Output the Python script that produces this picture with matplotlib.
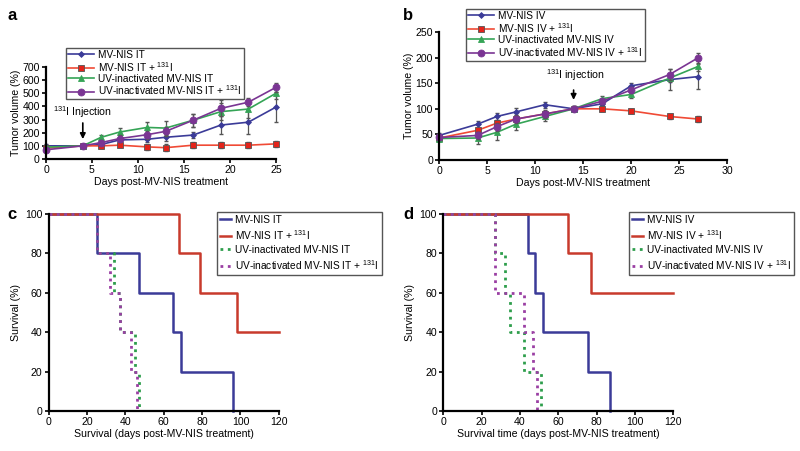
import matplotlib
matplotlib.use("Agg")
import matplotlib.pyplot as plt

plt.rcParams['font.family'] = ['Liberation Sans', 'DejaVu Sans']
plt.rcParams['mathtext.fontset'] = 'custom'
plt.rcParams['mathtext.rm'] = 'Liberation Sans'
plt.rcParams['mathtext.default'] = 'regular'

# panel a: tumor volume, intratumoral
days_a = [0, 4, 6, 8, 11, 13, 16, 19, 22, 25]
a_mv = [100, 100, 110, 145, 150, 165, 182, 258, 280, 395]
a_mv_err = [15, 10, 15, 20, 20, 25, 25, 70, 90, 115]
a_mv_i = [82, 100, 100, 105, 92, 86, 105, 105, 105, 115]
a_mv_i_err = [15, 10, 15, 15, 20, 25, 25, 25, 25, 25]
a_uv = [90, 100, 165, 205, 240, 235, 295, 360, 380, 500]
a_uv_err = [15, 10, 20, 30, 45, 55, 50, 65, 70, 40]
a_uv_i = [70, 100, 125, 155, 185, 210, 295, 385, 432, 545]
a_uv_i_err = [15, 10, 20, 25, 30, 35, 50, 60, 30, 35]

# panel b: tumor volume, intravenous
days_b = [0, 4, 6, 8, 11, 14, 17, 20, 24, 27]
b_mv = [48, 70, 85, 94, 108, 100, 110, 145, 157, 163]
b_mv_err = [4, 7, 7, 7, 6, 5, 5, 5, 20, 25]
b_mv_i = [43, 58, 72, 80, 90, 100, 100, 96, 85, 80]
b_mv_i_err = [3, 5, 6, 6, 5, 5, 5, 4, 5, 6]
b_uv = [42, 43, 54, 70, 85, 100, 120, 128, 160, 183]
b_uv_err = [3, 12, 14, 12, 8, 5, 5, 6, 8, 10]
b_uv_i = [44, 48, 65, 80, 90, 100, 115, 137, 167, 200]
b_uv_i_err = [3, 6, 8, 7, 8, 5, 5, 6, 10, 10]

# panel c: survival, IT
c_mv_t = [0, 25, 47, 65, 69, 96]
c_mv_s = [100, 80, 60, 40, 20, 0]
c_mv_i_t = [0, 68, 79, 98, 120]
c_mv_i_s = [100, 80, 60, 40, 40]
c_uv_t = [0, 25, 34, 37, 45, 47]
c_uv_s = [100, 80, 60, 40, 20, 0]
c_uv_i_t = [0, 25, 32, 37, 43, 46]
c_uv_i_s = [100, 80, 60, 40, 20, 0]

# panel d: survival, IV
d_mv_t = [0, 44.5, 47.7, 52.3, 75.8, 87]
d_mv_s = [100, 80, 60, 40, 20, 0]
d_mv_i_t = [0, 65, 77, 120]
d_mv_i_s = [100, 80, 60, 60]
d_uv_t = [0, 26.8, 32, 35, 42, 51]
d_uv_s = [100, 80, 60, 40, 20, 0]
d_uv_i_t = [0, 26.8, 42.3, 47, 49]
d_uv_i_s = [100, 60, 40, 20, 0]

BLUE = '#3b3b98'
RED = '#f04a35'
RED_M = '#e3231a'
GREEN = '#35a456'
PURPLE = '#7a3593'
S_RED = '#c83a2c'
S_GREEN = '#2e9e4c'
S_PURPLE = '#9a3fa3'
FS = 7.6
LFS = 7.3

fig = plt.figure(figsize=(8, 4.51), dpi=100)


def style(ax):
    for s in ['top', 'right']:
        ax.spines[s].set_visible(False)
    for s in ['left', 'bottom']:
        ax.spines[s].set_linewidth(1.6)
    ax.tick_params(direction='out', length=3, width=1.2, labelsize=FS, pad=1.5)


def tumor(ax, days, series, labels):
    specs = [(BLUE, 'D', 3, BLUE), (RED, 's', 5, RED_M),
             (GREEN, '^', 5, GREEN), (PURPLE, 'o', 5, PURPLE)]
    for (y, e), lab, (c, m, ms, mc) in zip(series, labels, specs):
        ax.errorbar(days, y, yerr=e, fmt='none', ecolor='#555555',
                    elinewidth=0.9, capsize=1.5, clip_on=False)
        ax.plot(days, y, color=c, lw=1.2, marker=m, ms=ms, mfc=mc,
                mec='#555555' if m == 's' else mc, mew=0.6, label=lab,
                clip_on=False)


def legend(ax, x, y, spacing, hl, pad):
    ax.legend(loc='upper left', bbox_to_anchor=(x, y), bbox_transform=fig.transFigure,
              borderaxespad=0, fontsize=LFS, fancybox=False, edgecolor='#555555',
              framealpha=1, labelspacing=spacing, borderpad=pad, handlelength=hl,
              handletextpad=0.4)


ax = fig.add_axes([0.0575, 0.6475, 0.2875, 0.204])
tumor(ax, days_a, [(a_mv, a_mv_err), (a_mv_i, a_mv_i_err), (a_uv, a_uv_err), (a_uv_i, a_uv_i_err)],
      ['MV-NIS IT', 'MV-NIS IT + $^{131}$I', 'UV-inactivated MV-NIS IT',
       'UV-inactivated MV-NIS IT + $^{131}$I'])
style(ax)
ax.set_xlim(0, 25)
ax.set_ylim(0, 700)
ax.set_xticks(range(0, 26, 5))
ax.set_yticks(range(0, 701, 100))
ax.set_xlabel('Days post-MV-NIS treatment', fontsize=FS, labelpad=1)
ax.set_ylabel('Tumor volume (%)', fontsize=FS, labelpad=1)
ax.annotate('', xy=(4, 130), xytext=(4, 295),
            arrowprops=dict(arrowstyle='-|>', color='black', lw=1.2, mutation_scale=8))
ax.text(4, 355, '$^{131}$I Injection', ha='center', va='center', fontsize=FS)
legend(ax, 0.0825, 0.894, 0.0, 2.6, 0.2)
fig.text(0.009, 0.965, 'a', fontsize=12, fontweight='bold', va='center')

ax = fig.add_axes([0.549, 0.6452, 0.36, 0.2838])
tumor(ax, days_b, [(b_mv, b_mv_err), (b_mv_i, b_mv_i_err), (b_uv, b_uv_err), (b_uv_i, b_uv_i_err)],
      ['MV-NIS IV', 'MV-NIS IV + $^{131}$I', 'UV-inactivated MV-NIS IV',
       'UV-inactivated MV-NIS IV + $^{131}$I'])
style(ax)
ax.set_xlim(0, 30)
ax.set_ylim(0, 250)
ax.set_xticks(range(0, 31, 5))
ax.set_yticks(range(0, 251, 50))
ax.set_xlabel('Days post-MV-NIS treatment', fontsize=FS, labelpad=1)
ax.set_ylabel('Tumor volume (%)', fontsize=FS, labelpad=1)
ax.annotate('', xy=(14, 112), xytext=(14, 142),
            arrowprops=dict(arrowstyle='-|>', color='black', lw=1.2, mutation_scale=8))
ax.text(14.2, 166, '$^{131}$I injection', ha='center', va='center', fontsize=FS)
legend(ax, 0.5825, 0.98, 0.0, 2.6, 0.2)
fig.text(0.504, 0.965, 'b', fontsize=12, fontweight='bold', va='center')


def survival(ax, curves, labels, xlabel):
    specs = [(BLUE, '-', 1.8), (S_RED, '-', 1.8), (S_GREEN, ':', 2.0), (S_PURPLE, ':', 2.0)]
    for (t, s), lab, (c, ls, lw) in zip(curves, labels, specs):
        ax.step(t, s, where='post', color=c, ls=ls, lw=lw, label=lab, clip_on=False)
    style(ax)
    ax.set_xlim(0, 120)
    ax.set_ylim(0, 100)
    ax.set_xticks(range(0, 121, 20))
    ax.set_yticks(range(0, 101, 20))
    ax.set_xlabel(xlabel, fontsize=FS, labelpad=1)
    ax.set_ylabel('Survival (%)', fontsize=FS, labelpad=3)


ax = fig.add_axes([0.061, 0.0887, 0.2875, 0.4368])
survival(ax, [(c_mv_t, c_mv_s), (c_mv_i_t, c_mv_i_s), (c_uv_t, c_uv_s), (c_uv_i_t, c_uv_i_s)],
         ['MV-NIS IT', 'MV-NIS IT + $^{131}$I', 'UV-inactivated MV-NIS IT',
          'UV-inactivated MV-NIS IT + $^{131}$I'],
         'Survival (days post-MV-NIS treatment)')
legend(ax, 0.271, 0.53, 0.3, 1.1, 0.3)
fig.text(0.009, 0.525, 'c', fontsize=12, fontweight='bold', va='center')

ax = fig.add_axes([0.554, 0.0887, 0.2875, 0.4368])
survival(ax, [(d_mv_t, d_mv_s), (d_mv_i_t, d_mv_i_s), (d_uv_t, d_uv_s), (d_uv_i_t, d_uv_i_s)],
         ['MV-NIS IV', 'MV-NIS IV + $^{131}$I', 'UV-inactivated MV-NIS IV',
          'UV-inactivated MV-NIS IV + $^{131}$I'],
         'Survival time (days post-MV-NIS treatment)')
legend(ax, 0.786, 0.53, 0.3, 1.1, 0.3)
fig.text(0.504, 0.525, 'd', fontsize=12, fontweight='bold', va='center')

fig.savefig('out.png', dpi=100)
